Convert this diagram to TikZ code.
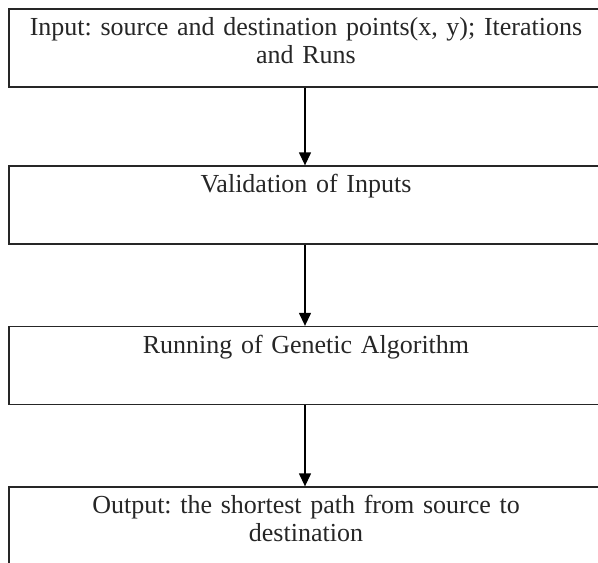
\documentclass[tikz,border=0pt]{standalone}
\usepackage{fontspec}
\setmainfont{Liberation Serif}
\usetikzlibrary{arrows.meta}
\frenchspacing
\begin{document}
\begin{tikzpicture}[x=1pt,y=-1pt,
  box/.style={draw=black!85, line width=1.3pt, minimum width=594pt, minimum height=78pt, inner sep=0pt},
  txt/.style={anchor=north, text width=590pt, align=center, inner sep=0pt, font=\fontsize{26}{28}\selectfont, text=black!85},
  arr/.style={line width=1.3pt, -{Triangle[width=12pt,length=13pt]}}]
\useasboundingbox (0,0) rectangle (598,563);
\node[box] (b1) at (306,48) {};
\node[box] (b2) at (306,205) {};
\node[box] (b3) at (306,365.5) {};
\node[box] (b4) at (306,526) {};
\node[txt] (t1) at ([yshift=-9pt]b1.north) {Input: source and destination points(x, y); Iterations\\and Runs};
\node[txt] (t2) at ([yshift=-9pt]b2.north) {Validation of Inputs};
\node[txt] (t3) at ([yshift=-9pt]b3.north) {Running of Genetic Algorithm};
\node[txt] (t4) at ([yshift=-9pt]b4.north) {Output: the shortest path from source to\\destination};
\draw[arr] ([xshift=-1pt]b1.south) -- ([xshift=-1pt]b2.north);
\draw[arr] ([xshift=-1pt]b2.south) -- ([xshift=-1pt]b3.north);
\draw[arr] ([xshift=-1pt]b3.south) -- ([xshift=-1pt]b4.north);
\end{tikzpicture}
\end{document}
